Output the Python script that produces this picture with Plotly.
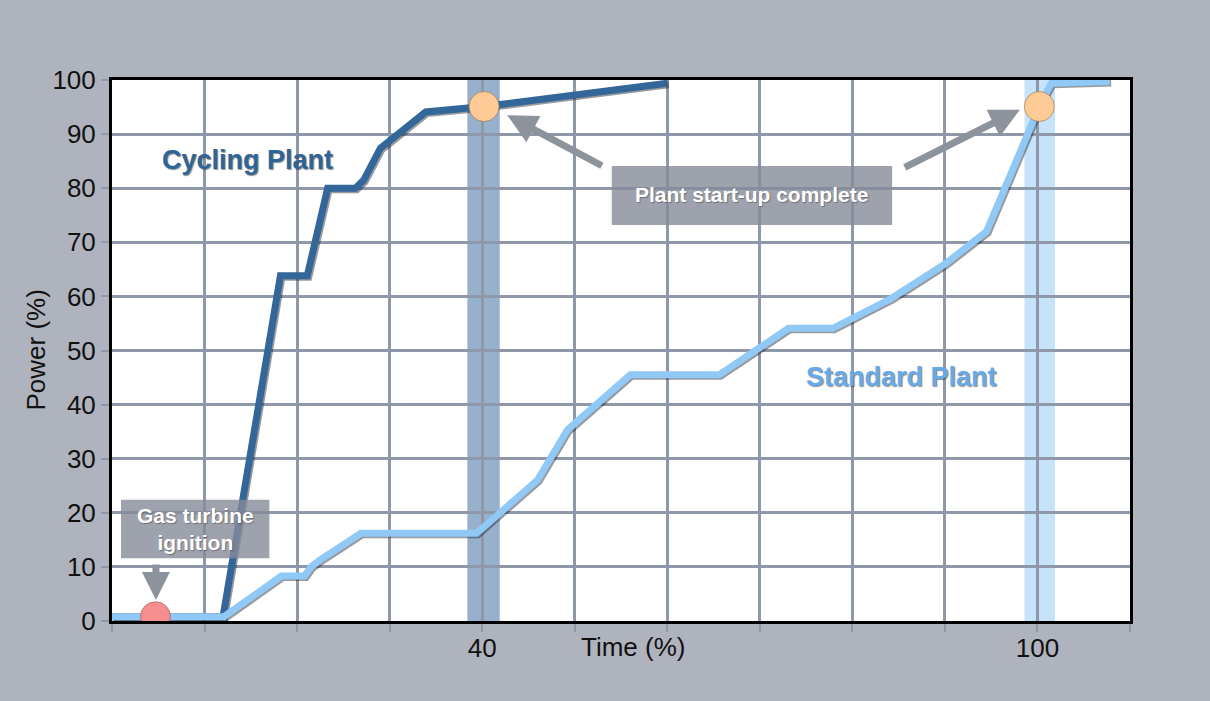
import plotly.graph_objects as go

# ---------------- data ----------------
cycling_time = [0, 12.0, 18.2, 21.1, 23.3, 26.3, 27.2, 29.0, 33.9, 40.2, 60.0]
cycling_power = [0.8, 0.8, 63.8, 63.8, 80.0, 80.0, 81.5, 87.4, 94.1, 95.1, 99.4]

standard_time = [0, 12.1, 18.3, 20.8, 21.5, 22.5, 26.9, 39.4, 46.0, 49.2, 56.0,
                 65.6, 73.1, 77.9, 84.2, 90.1, 94.5, 100.2, 101.5, 107.8]
standard_power = [0.8, 0.8, 8.3, 8.3, 10.0, 11.3, 16.2, 16.2, 26.1, 35.3, 45.5,
                  45.5, 54.1, 54.1, 59.6, 66.1, 72.0, 95.1, 99.4, 99.7]

ignition_time = [4.7]
ignition_power = [0.8]

complete_time = [40.2, 100.2]
complete_power = [95.1, 95.1]

time_ticks = [0, 10, 20, 30, 40, 50, 60, 70, 80, 90, 100, 110]
time_labels = ["", "", "", "", "40", "", "", "", "", "", "100", ""]
power_ticks = [0, 10, 20, 30, 40, 50, 60, 70, 80, 90, 100]

# ---------------- styles ----------------
FONT = "Liberation Sans, Arial, sans-serif"
DARK = "#336699"
LIGHT = "#90C8F6"
GRID = "#8E98A8"
BG = "#AFB3BD"
SHADOW = "rgba(25,30,40,0.45)"
BOX = "rgba(132,139,152,0.8)"

fig = go.Figure()

# shadows (drawn on hidden, slightly shifted axes x/y)
for t, p in [(cycling_time, cycling_power), (standard_time, standard_power)]:
    fig.add_trace(go.Scatter(x=t, y=p, mode="lines", xaxis="x", yaxis="y",
                             line=dict(color=SHADOW, width=7),
                             hoverinfo="skip", showlegend=False))

# main lines on visible axes x2/y2
fig.add_trace(go.Scatter(x=cycling_time, y=cycling_power, mode="lines",
                         xaxis="x2", yaxis="y2", name="Cycling Plant",
                         line=dict(color=DARK, width=7), showlegend=False))
fig.add_trace(go.Scatter(x=standard_time, y=standard_power, mode="lines",
                         xaxis="x2", yaxis="y2", name="Standard Plant",
                         line=dict(color=LIGHT, width=7), showlegend=False))

fig.add_trace(go.Scatter(x=ignition_time, y=ignition_power, mode="markers",
                         xaxis="x2", yaxis="y2", showlegend=False,
                         marker=dict(size=30, color="#F58F8F",
                                     line=dict(color="rgba(140,70,70,0.5)", width=1))))
fig.add_trace(go.Scatter(x=complete_time, y=complete_power, mode="markers",
                         xaxis="x2", yaxis="y2", showlegend=False,
                         marker=dict(size=30, color="#FECB97",
                                     line=dict(color="rgba(150,110,70,0.6)", width=1))))

# ---------------- shapes ----------------
shapes = [
    dict(type="rect", xref="x2", yref="paper", x0=38.4, x1=41.9, y0=0, y1=1,
         fillcolor="rgba(47,100,153,0.5)", line=dict(width=0), layer="between"),
    dict(type="rect", xref="x2", yref="paper", x0=98.6, x1=101.9, y0=0, y1=1,
         fillcolor="rgba(144,200,245,0.5)", line=dict(width=0), layer="between"),
    dict(type="rect", xref="x2", yref="y2", x0=0.97, x1=17.0, y0=11.6, y1=22.4,
         fillcolor=BOX, line=dict(width=0), layer="above"),
    dict(type="rect", xref="x2", yref="y2", x0=54.0, x1=84.3, y0=73.2, y1=84.1,
         fillcolor=BOX, line=dict(width=0), layer="above"),
]

ARROW = "#8D939D"
annotations = [
    dict(text="Cycling Plant", x=14.67, y=85.2, xref="x2", yref="y2", showarrow=False,
         font=dict(family=FONT, size=27, color="#2F6499", weight="bold",
                   shadow="1px 1px 1px rgba(0,0,0,0.45)")),
    dict(text="Standard Plant", x=85.3, y=45.1, xref="x2", yref="y2", showarrow=False,
         font=dict(family=FONT, size=27, color="#66AAEA", weight="bold",
                   shadow="1px 1px 1px rgba(0,0,0,0.45)")),
    dict(text="Gas turbine<br>ignition", x=9.0, y=17.0, xref="x2", yref="y2",
         showarrow=False,
         font=dict(family=FONT, size=21, color="white", weight="bold",
                   shadow="1px 1px 1px rgba(0,0,0,0.3)")),
    dict(text="Plant start-up complete", x=69.1, y=78.9, xref="x2", yref="y2",
         showarrow=False,
         font=dict(family=FONT, size=21, color="white", weight="bold",
                   shadow="1px 1px 1px rgba(0,0,0,0.3)")),
    # arrows
    dict(text="", x=42.7, y=93.5, ax=53.1, ay=84.0, xref="x2", yref="y2",
         axref="x2", ayref="y2", showarrow=True, arrowhead=2, arrowsize=0.85,
         arrowwidth=7, arrowcolor=ARROW),
    dict(text="", x=98.1, y=94.5, ax=85.5, ay=83.7, xref="x2", yref="y2",
         axref="x2", ayref="y2", showarrow=True, arrowhead=2, arrowsize=0.85,
         arrowwidth=7, arrowcolor=ARROW),
    dict(text="", x=4.75, y=3.9, ax=4.75, ay=10.7, xref="x2", yref="y2",
         axref="x2", ayref="y2", showarrow=True, arrowhead=2, arrowsize=0.8,
         arrowwidth=7, arrowcolor=ARROW),
    # axis titles
    dict(text="Time (%)", x=56.3, y=-0.048, xref="x2", yref="paper", showarrow=False,
         xanchor="center", yanchor="middle",
         font=dict(family=FONT, size=26, color="#111111")),
    dict(text="Power (%)", x=-0.0756, y=0.5, xref="paper", yref="paper",
         showarrow=False, textangle=-90, xanchor="center", yanchor="middle",
         font=dict(family=FONT, size=26, color="#111111")),
]

# pixel-size offsets for the shadow axes
dx = 1.5 * 110 / 1018
dy = 1.5 * 100 / 541

fig.update_layout(
    width=1210, height=701,
    margin=dict(l=112, r=80, t=80, b=80),
    paper_bgcolor=BG, plot_bgcolor="white",
    font=dict(family=FONT, size=26, color="#111111"),
    shapes=shapes, annotations=annotations,
    xaxis=dict(visible=False, range=[0 - dx, 110 - dx], fixedrange=True),
    yaxis=dict(visible=False, range=[0 + dy, 100 + dy], fixedrange=True),
    xaxis2=dict(overlaying="x", anchor="y2", side="bottom", range=[0, 110],
                tickmode="array", tickvals=time_ticks, ticktext=time_labels,
                showgrid=True, gridcolor=GRID, gridwidth=2.5, zeroline=False,
                showline=True, linecolor="black", linewidth=3, mirror=True,
                ticks="outside", ticklen=8, tickwidth=2, tickcolor=GRID,
                ticklabelstandoff=-6,
                tickfont=dict(family=FONT, size=26, color="#111111")),
    yaxis2=dict(overlaying="y", anchor="x2", side="left", range=[0, 100],
                tickmode="array", tickvals=power_ticks,
                showgrid=True, gridcolor=GRID, gridwidth=2.5, zeroline=False,
                showline=True, linecolor="black", linewidth=3, mirror=True,
                ticks="outside", ticklen=8, tickwidth=2, tickcolor=GRID,
                tickfont=dict(family=FONT, size=26, color="#111111")),
    showlegend=False,
)

fig.write_html("out.html",
               config={"displayModeBar": False},
               post_script="document.body.style.margin='0';document.body.style.overflow='hidden';")
